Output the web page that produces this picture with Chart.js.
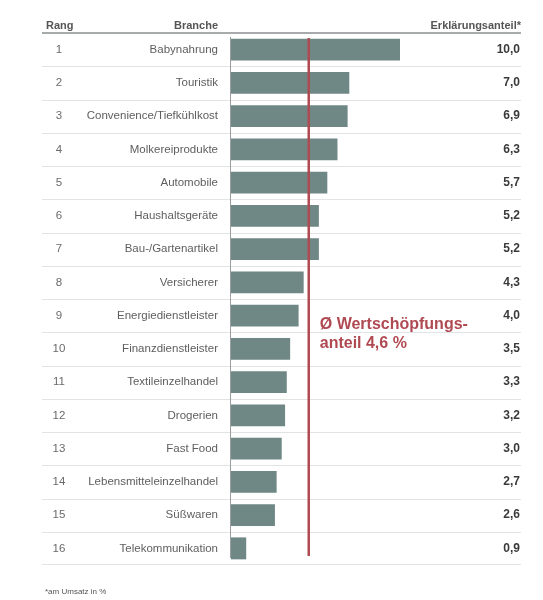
<!DOCTYPE html>
<html>
<head>
<meta charset="utf-8">
<script src="https://cdn.jsdelivr.net/npm/chart.js@4"></script>
<style>
html,body{margin:0;padding:0;background:#fff;}
#wrap{width:543px;height:600px;position:relative;}
</style>
</head>
<body>
<div id="wrap"><canvas id="c" width="543" height="600"></canvas></div>
<script>
const ranks = ["1","2","3","4","5","6","7","8","9","10","11","12","13","14","15","16"];
const branches = ["Babynahrung","Touristik","Convenience/Tiefkühlkost","Molkereiprodukte","Automobile","Haushaltsgeräte","Bau-/Gartenartikel","Versicherer","Energiedienstleister","Finanzdienstleister","Textileinzelhandel","Drogerien","Fast Food","Lebensmitteleinzelhandel","Süßwaren","Telekommunikation"];
const values = [10.0,7.0,6.9,6.3,5.7,5.2,5.2,4.3,4.0,3.5,3.3,3.2,3.0,2.7,2.6,0.9];
const avgValue = 4.6;
const headers = ["Rang","Branche","Erklärungsanteil*"];
const annotationLines = ["Ø Wertschöpfungs-","anteil 4,6 %"];
const footnote = "*am Umsatz in %";

const FONT = "'Liberation Sans', Arial, sans-serif";
const fmt = v => v.toFixed(1).replace('.', ',');

const tablePlugin = {
  id: 'tablePlugin',
  beforeDatasetsDraw(chart) {
    const ctx = chart.ctx, y = chart.scales.y, x = chart.scales.x, ca = chart.chartArea;
    ctx.save();
    // header
    ctx.fillStyle = '#555';
    ctx.font = 'bold 11px ' + FONT;
    ctx.textBaseline = 'alphabetic';
    ctx.textAlign = 'left';
    ctx.fillText(headers[0], 46, 29);
    ctx.textAlign = 'right';
    ctx.fillText(headers[1], 218, 29);
    ctx.fillText(headers[2], 521, 29);
    // header line
    ctx.strokeStyle = '#8a8f8f';
    ctx.lineWidth = 1.5;
    ctx.beginPath(); ctx.moveTo(42, 33); ctx.lineTo(521, 33); ctx.stroke();
    // row separators
    ctx.strokeStyle = '#e2e4e4';
    ctx.lineWidth = 1;
    for (let i = 0; i < branches.length; i++) {
      let yy;
      if (i < branches.length - 1) yy = (y.getPixelForValue(i) + y.getPixelForValue(i + 1)) / 2;
      else yy = ca.bottom - 1;
      yy = Math.round(yy) + 0.5;
      ctx.beginPath(); ctx.moveTo(42, yy); ctx.lineTo(521, yy); ctx.stroke();
    }
    // rows text
    ctx.textBaseline = 'middle';
    for (let i = 0; i < branches.length; i++) {
      const yy = y.getPixelForValue(i);
      ctx.fillStyle = '#6a6a6a';
      ctx.font = '11.5px ' + FONT;
      ctx.textAlign = 'center';
      ctx.fillText(ranks[i], 59, yy);
      ctx.fillStyle = '#5e5e5e';
      ctx.textAlign = 'right';
      ctx.font = '11.5px ' + FONT;
      ctx.fillText(branches[i], 218, yy);
      ctx.fillStyle = '#3a3a3a';
      ctx.font = 'bold 12px ' + FONT;
      ctx.fillText(fmt(values[i]), 520, yy);
    }
    // vertical axis line
    const x0 = Math.round(x.getPixelForValue(0)) - 0.5;
    ctx.strokeStyle = '#9a9e9e';
    ctx.lineWidth = 1;
    ctx.beginPath(); ctx.moveTo(x0, ca.top + 4); ctx.lineTo(x0, ca.bottom - 7); ctx.stroke();
    // footnote
    ctx.fillStyle = '#555';
    ctx.font = '8px ' + FONT;
    ctx.textAlign = 'left';
    ctx.textBaseline = 'alphabetic';
    ctx.fillText(footnote, 45, 594);
    ctx.restore();
  },
  afterDatasetsDraw(chart) {
    const ctx = chart.ctx, x = chart.scales.x, ca = chart.chartArea;
    ctx.save();
    const ax = x.getPixelForValue(avgValue);
    ctx.strokeStyle = '#b04a52';
    ctx.lineWidth = 2.5;
    ctx.beginPath(); ctx.moveTo(ax, ca.top + 5); ctx.lineTo(ax, ca.bottom - 9); ctx.stroke();
    ctx.fillStyle = '#b04a52';
    ctx.font = 'bold 16px ' + FONT;
    ctx.textAlign = 'left';
    ctx.textBaseline = 'alphabetic';
    ctx.fillText(annotationLines[0], ax + 11, 329);
    ctx.fillText(annotationLines[1], ax + 11, 348);
    ctx.restore();
  }
};

new Chart(document.getElementById('c'), {
  type: 'bar',
  data: {
    labels: branches,
    datasets: [{
      data: values,
      backgroundColor: '#6f8886',
      borderWidth: 0,
      barPercentage: 0.66,
      categoryPercentage: 1.0
    }]
  },
  options: {
    indexAxis: 'y',
    responsive: false,
    animation: false,
    devicePixelRatio: 1,
    layout: { padding: { left: 231, right: 143, top: 33, bottom: 35 } },
    plugins: { legend: { display: false }, tooltip: { enabled: false } },
    scales: {
      x: { display: false, min: 0, max: 10 },
      y: { display: false }
    }
  },
  plugins: [tablePlugin]
});
</script>
</body>
</html>
